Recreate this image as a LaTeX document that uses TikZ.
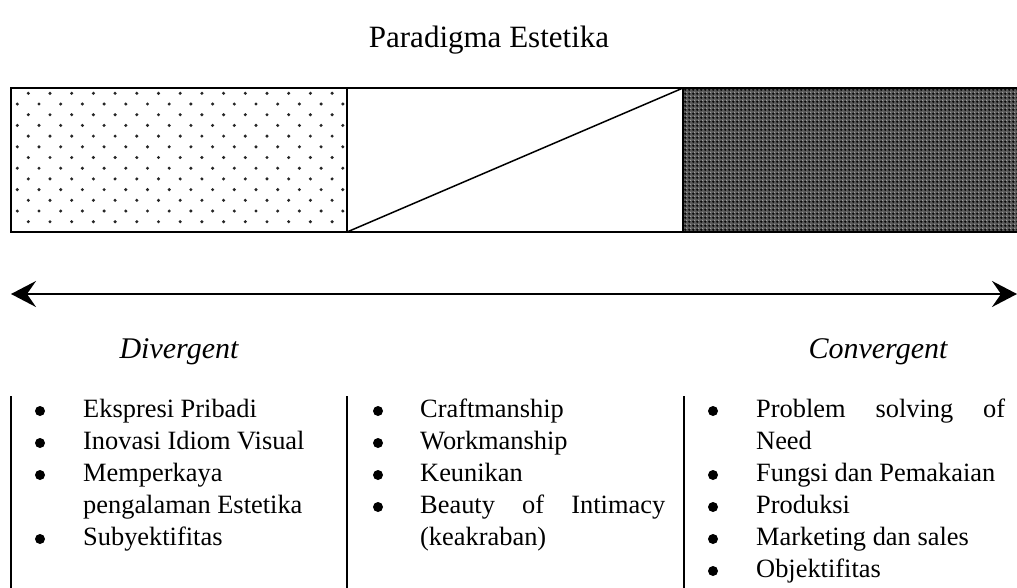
\documentclass[tikz,border=0pt]{standalone}
\usepackage{fontspec}
\setmainfont{Liberation Serif}
\usetikzlibrary{arrows.meta,patterns.meta}
\pgfdeclarepattern{name=crossblk, type=uncolored,
  bottom left={\pgfpoint{0pt}{0pt}}, top right={\pgfpoint{4pt}{4pt}},
  tile size={\pgfpoint{4pt}{4pt}},
  code={\pgfpathrectangle{\pgfpoint{1pt}{0pt}}{\pgfpoint{1pt}{3pt}}%
        \pgfpathrectangle{\pgfpoint{0pt}{1pt}}{\pgfpoint{3pt}{1pt}}%
        \pgfusepath{fill}}}
\pgfdeclarepattern{name=dotwht, type=uncolored,
  bottom left={\pgfpoint{0pt}{0pt}}, top right={\pgfpoint{4pt}{4pt}},
  tile size={\pgfpoint{4pt}{4pt}},
  code={\pgfpathrectangle{\pgfpoint{3pt}{3pt}}{\pgfpoint{1pt}{1pt}}%
        \pgfusepath{fill}}}
\tikzset{
  titletext/.style={font=\fontsize{31}{37}\selectfont, anchor=base, inner sep=0},
  headtext/.style={font=\fontsize{30}{36}\selectfont\itshape, anchor=base, inner sep=0},
  itemtext/.style={font=\fontsize{26.4}{31.6}\selectfont, anchor=base west, inner sep=0},
  bulletmark/.style={circle, fill=black, inner sep=0, minimum size=10pt},
  boxline/.style={line width=2pt},
  colline/.style={line width=2pt},
  dblarrow/.style={line width=2pt, {Stealth[length=25pt,width=26pt,inset=9pt]}-{Stealth[length=25pt,width=26pt,inset=9pt]}},
}
\begin{document}
\begin{tikzpicture}[x=1pt,y=-1pt]
\useasboundingbox (0,0) rectangle (1017,587);
\clip (0,0) rectangle (1017,587);
% title
\node[titletext] (title) at (489,47) {Paradigma Estetika};
% box corners
\coordinate (bTL) at (11,88);
\coordinate (bBR) at (1020,232);
\coordinate (d1T) at (347,88);
\coordinate (d1B) at (347,232);
\coordinate (d2T) at (683,88);
\coordinate (d2B) at (683,232);
% left dotted panel
\begin{scope}
\clip (bTL) rectangle (d1B);
\foreach \r in {0,...,12} {
  \pgfmathsetmacro\off{mod(\r,2)==0 ? 28.3 : 17.3}
  \foreach \c in {0,...,15} {
    \fill[black!85] ({\off+\c*21.7},{93.3+\r*10.7}) circle (1.7);
  }
}
\end{scope}
% right dark panel
\fill[black!65] (d2T) rectangle (bBR);
\fill[pattern=crossblk, pattern color=black] (d2T) rectangle (bBR);
\fill[pattern=dotwht, pattern color=white] (d2T) rectangle (bBR);
% box outline and dividers
\draw[boxline] (bTL) rectangle (bBR);
\draw[boxline] (d1T) -- (d1B);
\draw[boxline] (d2T) -- (d2B);
\draw[line width=1.5pt] (d1B) -- (d2T);
% arrow
\coordinate (aL) at (11,294);
\coordinate (aR) at (1017,294);
\draw[dblarrow] (aL) -- (aR);
% headings
\node[headtext] (div) at (179,358) {Divergent};
\node[headtext] (conv) at (878,358) {Convergent};
% column lines
\coordinate (c1T) at (11,396);  \coordinate (c1B) at (11,590);
\coordinate (c2T) at (347,396); \coordinate (c2B) at (347,590);
\coordinate (c3T) at (684,396); \coordinate (c3B) at (684,590);
\draw[colline] (c1T) -- (c1B);
\draw[colline] (c2T) -- (c2B);
\draw[colline] (c3T) -- (c3B);
% column 1
\node[bulletmark] (b11) at (40,411) {};
\node[itemtext] (t11) at (83,417) {Ekspresi Pribadi};
\node[bulletmark] (b12) at (40,443) {};
\node[itemtext] (t12) at (83,449) {Inovasi Idiom Visual};
\node[bulletmark] (b13) at (40,475) {};
\node[itemtext] (t13) at (83,481) {Memperkaya};
\node[itemtext] (t13b) at (83,513) {pengalaman Estetika};
\node[bulletmark] (b14) at (40,539) {};
\node[itemtext] (t14) at (83,545) {Subyektifitas};
% column 2
\node[bulletmark] (b21) at (378,411) {};
\node[itemtext] (t21) at (420,417) {Craftmanship};
\node[bulletmark] (b22) at (378,443) {};
\node[itemtext] (t22) at (420,449) {Workmanship};
\node[bulletmark] (b23) at (378,475) {};
\node[itemtext] (t23) at (420,481) {Keunikan};
\node[bulletmark] (b24) at (378,507) {};
\node[itemtext] (t24) at (420,513) {\makebox[245pt][s]{Beauty of Intimacy}};
\node[itemtext] (t24b) at (420,545) {(keakraban)};
% column 3
\node[bulletmark] (b31) at (713,411) {};
\node[itemtext] (t31) at (756,417) {\makebox[249pt][s]{Problem solving of}};
\node[itemtext] (t31b) at (756,449) {Need};
\node[bulletmark] (b32) at (713,475) {};
\node[itemtext] (t32) at (756,481) {Fungsi dan Pemakaian};
\node[bulletmark] (b33) at (713,507) {};
\node[itemtext] (t33) at (756,513) {Produksi};
\node[bulletmark] (b34) at (713,539) {};
\node[itemtext] (t34) at (756,545) {Marketing dan sales};
\node[bulletmark] (b35) at (713,571) {};
\node[itemtext] (t35) at (756,577) {Objektifitas};
\end{tikzpicture}
\end{document}
